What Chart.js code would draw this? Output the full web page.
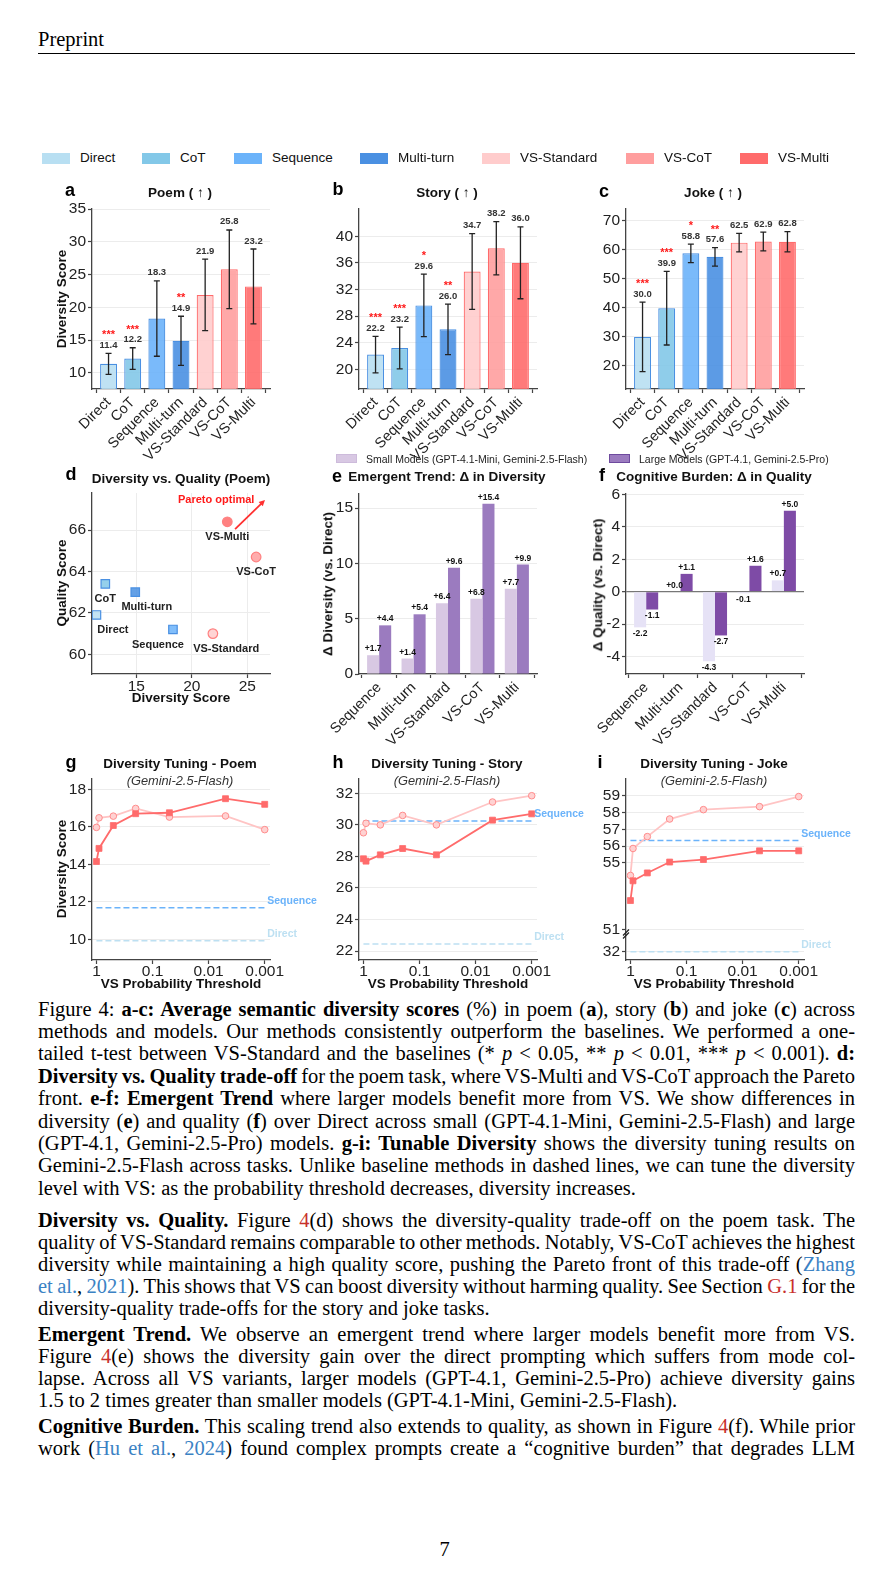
<!DOCTYPE html>
<html>
<head>
<meta charset="utf-8">
<title>Figure 4</title>
<script src="https://cdn.jsdelivr.net/npm/chart.js@4.4.1/dist/chart.umd.min.js"></script>
<style>
  html, body { margin: 0; padding: 0; background: #fff; }
  #page { position: relative; width: 889px; height: 1585px; overflow: hidden; background: #fff; }
  .box { position: absolute; }
  .tx { position: absolute; transform: translate(-50%, -50%); line-height: 1; white-space: nowrap;
        font-family: 'Liberation Sans', Arial, sans-serif; color: #111; }
  .tx.rot { transform: translate(-50%, -50%) rotate(-90deg); }
  .tx.tl { transform: translate(0, -50%); }
  .patch { position: absolute; box-sizing: border-box; }
  .para { position: absolute; left: 38px; width: 817px; font-family: 'Liberation Serif', 'Times New Roman', serif;
          font-size: 20.5px; line-height: 22px; color: #000; }
  .para.cap { line-height: 22.4px; }
  .ln { white-space: nowrap; }
  .r { color: #c8302c; }
  .c { color: #3b82c4; }
</style>
</head>
<body>
<div id="page">
  <div class="para" style="top:28px;line-height:22.5px;">Preprint</div>
  <div style="position:absolute;left:38px;top:52.5px;width:817px;height:1.3px;background:#000;"></div>

  <div class="para cap" style="top:997.5px;">
<div class="ln j">Figure 4: <b>a-c: Average semantic diversity scores</b> (%) in poem (<b>a</b>), story (<b>b</b>) and joke (<b>c</b>) across</div>
<div class="ln j">methods and models. Our methods consistently outperform the baselines. We performed a one-</div>
<div class="ln j">tailed t-test between VS-Standard and the baselines (* <i>p</i> &lt; 0.05, ** <i>p</i> &lt; 0.01, *** <i>p</i> &lt; 0.001). <b>d:</b></div>
<div class="ln j"><b>Diversity vs. Quality trade-off</b> for the poem task, where VS-Multi and VS-CoT approach the Pareto</div>
<div class="ln j">front. <b>e-f: Emergent Trend</b> where larger models benefit more from VS. We show differences in</div>
<div class="ln j">diversity (<b>e</b>) and quality (<b>f</b>) over Direct across small (GPT-4.1-Mini, Gemini-2.5-Flash) and large</div>
<div class="ln j">(GPT-4.1, Gemini-2.5-Pro) models. <b>g-i: Tunable Diversity</b> shows the diversity tuning results on</div>
<div class="ln j">Gemini-2.5-Flash across tasks. Unlike baseline methods in dashed lines, we can tune the diversity</div>
<div class="ln">level with VS: as the probability threshold decreases, diversity increases.</div>
  </div>

  <div class="para" style="top:1208.5px;">
<div class="ln j"><b>Diversity vs. Quality.</b> Figure <span class="r">4</span>(d) shows the diversity-quality trade-off on the poem task. The</div>
<div class="ln j">quality of VS-Standard remains comparable to other methods. Notably, VS-CoT achieves the highest</div>
<div class="ln j">diversity while maintaining a high quality score, pushing the Pareto front of this trade-off (<span class="c">Zhang</span></div>
<div class="ln j"><span class="c">et al.</span>, <span class="c">2021</span>). This shows that VS can boost diversity without harming quality. See Section <span class="r">G.1</span> for the</div>
<div class="ln">diversity-quality trade-offs for the story and joke tasks.</div>
  </div>

  <div class="para" style="top:1322.5px;">
<div class="ln j"><b>Emergent Trend.</b> We observe an emergent trend where larger models benefit more from VS.</div>
<div class="ln j">Figure <span class="r">4</span>(e) shows the diversity gain over the direct prompting which suffers from mode col-</div>
<div class="ln j">lapse. Across all VS variants, larger models (GPT-4.1, Gemini-2.5-Pro) achieve diversity gains</div>
<div class="ln">1.5 to 2 times greater than smaller models (GPT-4.1-Mini, Gemini-2.5-Flash).</div>
  </div>

  <div class="para" style="top:1414.5px;">
<div class="ln j"><b>Cognitive Burden.</b> This scaling trend also extends to quality, as shown in Figure <span class="r">4</span>(f). While prior</div>
<div class="ln j">work (<span class="c">Hu et al.</span>, <span class="c">2024</span>) found complex prompts create a “cognitive burden” that degrades LLM</div>
  </div>

  <div class="para" style="top:1537.5px;left:0;width:889px;text-align:center;">7</div>
</div>

<script>
const page = document.getElementById('page');

// --- data: a-c bars ---
const methods = ['Direct', 'CoT', 'Sequence', 'Multi-turn', 'VS-Standard', 'VS-CoT', 'VS-Multi'];
const poemScores = [11.4, 12.2, 18.3, 14.9, 21.9, 25.8, 23.2];
const poemErr = [1.6, 1.65, 5.75, 3.75, 5.45, 6.0, 5.7];
const poemStars = ['***', '***', '', '**', '', '', ''];
const storyScores = [22.2, 23.2, 29.6, 26.0, 34.7, 38.2, 36.0];
const storyErr = [2.75, 3.15, 4.7, 3.8, 5.7, 4.0, 5.4];
const storyStars = ['***', '***', '*', '**', '', '', ''];
const jokeScores = [30.0, 39.9, 58.8, 57.6, 62.5, 62.9, 62.8];
const jokeErr = [12.0, 12.7, 3.2, 3.2, 3.2, 3.25, 3.5];
const jokeStars = ['***', '***', '*', '**', '', '', ''];

// --- d scatter (x = poemScores) ---
const poemQuality = [61.9, 63.4, 61.2, 63.0, 61.0, 64.7, 66.4];

// --- e-f deltas vs Direct ---
const vsMethods = ['Sequence', 'Multi-turn', 'VS-Standard', 'VS-CoT', 'VS-Multi'];
const smallDiversityGain = [1.7, 1.4, 6.4, 6.8, 7.7];
const largeDiversityGain = [4.4, 5.4, 9.6, 15.4, 9.9];
const smallQualityGain = [-2.2, 0.0, -4.3, -0.1, 0.7];
const largeQualityGain = [-1.1, 1.1, -2.7, 1.6, 5.0];

// --- g-i tuning ---
const thresholds = [1.0, 0.9, 0.5, 0.2, 0.05, 0.005, 0.001];
const poemTuneStandard = [15.97, 16.48, 16.57, 16.98, 16.52, 16.58, 15.85];
const poemTuneMulti = [14.15, 14.85, 16.07, 16.7, 16.75, 17.5, 17.2];
const storyTuneStandard = [29.5, 30.1, 30.0, 30.6, 30.0, 31.45, 31.85];
const storyTuneMulti = [27.85, 27.7, 28.1, 28.5, 28.1, 30.3, 30.7];
const jokeTuneStandard = [54.25, 55.86, 56.57, 57.62, 58.18, 58.36, 58.96];
const jokeTuneMulti = [52.75, 53.93, 54.4, 55.05, 55.2, 55.72, 55.72];
const baselineNames = ['Sequence', 'Direct'];
const poemBaseline = [11.69, 9.93];
const storyBaseline = [30.24, 22.44];
const jokeBaseline = [56.33, 32];

// tick labels
const poemTicks = [10, 15, 20, 25, 30, 35];
const storyTicks = [20, 24, 28, 32, 36, 40];
const jokeTicks = [20, 30, 40, 50, 60, 70];
const qualityTicks = [60, 62, 64, 66];
const diversityXTicks = [15, 20, 25];
const gainTicks = [0, 5, 10, 15];
const qualityGainTicks = [-4, -2, 0, 2, 4, 6];
const thresholdTicks = [1, 0.1, 0.01, 0.001];
const poemTuneTicks = [10, 12, 14, 16, 18];
const storyTuneTicks = [22, 24, 26, 28, 30, 32];
const jokeTuneTicks = [32, 51, 55, 56, 57, 58, 59];

// colours
const methodColors = ['#B8DFF2', '#83C8E8', '#6BB3FA', '#4A90E2', '#FFCCCC', '#FF9E9E', '#FF6B6B'];
const edgeColors = ['#4A90E2', '#4A90E2', '#4A90E2', '#4A90E2', '#FF6B6B', '#FF6B6B', '#FF6B6B'];
const baselineColors = ['#6BB3FA', '#BDE0F2'];

// joke axis is broken between 32 and 51
const breakAt = 51, breakGap = 1.3;
function jokeAxis(v) {
  return v >= breakAt ? v : breakAt - breakGap * (breakAt - v) / (breakAt - jokeBaseline[1]);
}

Chart.defaults.font.family = "'Liberation Sans', Arial, sans-serif";
Chart.defaults.color = '#222';

// plot areas on the page: left, top, width, height
const boxA = [92, 209, 178, 180], boxB = [359, 209, 178, 180], boxC = [625.5, 209, 178, 180];
const boxD = [92, 493, 178, 181], boxE = [359, 494, 178, 180], boxF = [625.5, 494, 178, 180];
const boxG = [92, 779, 178, 181], boxH = [359, 779, 178, 181], boxI = [625.5, 779, 178, 181];
const M = { l: 70, t: 40, r: 90, b: 70 };
const TICK_FONT = 15.5, CAT_FONT = 14.5;

function mount(box) {
  const d = document.createElement('div');
  d.className = 'box';
  d.style.left = (box[0] - M.l) + 'px';
  d.style.top = (box[1] - M.t) + 'px';
  d.style.width = (box[2] + M.l + M.r) + 'px';
  d.style.height = (box[3] + M.t + M.b) + 'px';
  const c = document.createElement('canvas');
  d.appendChild(c);
  page.appendChild(d);
  return c;
}

function addText(txt, x, y, css, cls) {
  const d = document.createElement('div');
  d.className = 'tx' + (cls ? ' ' + cls : '');
  d.textContent = txt;
  d.style.left = x + 'px';
  d.style.top = y + 'px';
  Object.assign(d.style, css || {});
  page.appendChild(d);
}

function yAxis(min, max, ticks, extra) {
  return Object.assign({
    min, max,
    afterBuildTicks: s => { s.ticks = ticks.map(v => ({ value: v })); },
    afterFit: s => { s.width = M.l; s.paddingTop = 0; s.paddingBottom = 0; },
    ticks: { font: { size: TICK_FONT }, color: '#222', padding: 2 },
    grid: { color: '#ececec', lineWidth: 1, tickColor: '#444', tickLength: 4, tickWidth: 1.2 },
    border: { color: '#444', width: 1.3 }
  }, extra || {});
}

function xAxis(extra) {
  return Object.assign({
    afterFit: s => { s.height = M.b; s.paddingLeft = 0; s.paddingRight = 0; },
    grid: { drawOnChartArea: false, tickColor: '#444', tickLength: 4, tickWidth: 1.2 },
    border: { color: '#444', width: 1.3 }
  }, extra);
}

function baseOptions(x, y, pluginOpts) {
  return {
    responsive: true, maintainAspectRatio: false, animation: false,
    layout: { padding: { left: 0, top: M.t, right: M.r, bottom: 0 } },
    plugins: Object.assign({ legend: { display: false }, tooltip: { enabled: false } }, pluginOpts || {}),
    scales: { x, y }
  };
}

// error bars, values and significance stars for a-c
const errBars = {
  id: 'errbars',
  afterDatasetsDraw(chart, args, opts) {
    const { ctx } = chart;
    const y = chart.scales.y;
    const ds = chart.data.datasets[0];
    ctx.save();
    chart.getDatasetMeta(0).data.forEach((bar, i) => {
      const v = ds.data[i].y, e = opts.err[i];
      const top = y.getPixelForValue(v + e), bot = y.getPixelForValue(v - e);
      ctx.strokeStyle = '#222';
      ctx.lineWidth = 1.3;
      ctx.beginPath();
      ctx.moveTo(bar.x, top); ctx.lineTo(bar.x, bot);
      ctx.moveTo(bar.x - 3, top); ctx.lineTo(bar.x + 3, top);
      ctx.moveTo(bar.x - 3, bot); ctx.lineTo(bar.x + 3, bot);
      ctx.stroke();
      const yl = top - 5.5;
      ctx.textAlign = 'center';
      ctx.textBaseline = 'alphabetic';
      ctx.fillStyle = '#333';
      ctx.font = "bold 9.5px 'Liberation Sans', Arial";
      ctx.fillText(v.toFixed(1), bar.x, yl);
      if (opts.stars[i]) {
        ctx.fillStyle = '#ff1a1a';
        ctx.font = "bold 11px 'Liberation Sans', Arial";
        ctx.fillText(opts.stars[i], bar.x, yl - 9.5);
      }
    });
    ctx.restore();
  }
};

function methodBars(box, vals, err, stars, yMin, yMax, ticks) {
  return new Chart(mount(box), {
    type: 'bar',
    data: {
      datasets: [{
        data: vals.map((v, i) => ({ x: i, y: v })),
        backgroundColor: methodColors.map(c => c + 'E6'),
        borderColor: edgeColors,
        borderWidth: 1.2,
        borderSkipped: false,
        categoryPercentage: 1,
        barPercentage: 0.7
      }]
    },
    options: baseOptions(
      xAxis({
        type: 'linear', min: -0.685, max: 6.685, offset: false,
        afterBuildTicks: s => { s.ticks = methods.map((m, i) => ({ value: i })); },
        ticks: { callback: v => methods[v], minRotation: 45, maxRotation: 45, autoSkip: false,
                 font: { size: CAT_FONT }, color: '#222', padding: 1 }
      }),
      yAxis(yMin, yMax, ticks),
      { errbars: { err, stars } }
    ),
    plugins: [errBars]
  });
}

methodBars(boxA, poemScores, poemErr, poemStars, 7.56, 35, poemTicks);
methodBars(boxB, storyScores, storyErr, storyStars, 17.03, 44.1, storyTicks);
methodBars(boxC, jokeScores, jokeErr, jokeStars, 12.03, 74.1, jokeTicks);

// d: scatter with labels and pareto arrow
const labelDx = [16.5, 0, -15, 11.5, 13.3, 0, 0];
const paretoArrow = [[23.9, 66.05], [26.6, 67.45]];
const paretoText = [22.2, 67.45];
const scatterNotes = {
  id: 'scatternotes',
  afterDatasetsDraw(chart) {
    const { ctx } = chart;
    const { x, y } = chart.scales;
    ctx.save();
    ctx.font = "bold 11px 'Liberation Sans', Arial";
    ctx.fillStyle = '#222';
    ctx.textAlign = 'center';
    ctx.textBaseline = 'middle';
    methods.forEach((m, i) => {
      ctx.fillText(m, x.getPixelForValue(poemScores[i]) + labelDx[i], y.getPixelForValue(poemQuality[i]) + 15);
    });
    const x0 = x.getPixelForValue(paretoArrow[0][0]), y0 = y.getPixelForValue(paretoArrow[0][1]);
    const x1 = x.getPixelForValue(paretoArrow[1][0]), y1 = y.getPixelForValue(paretoArrow[1][1]);
    const ang = Math.atan2(y1 - y0, x1 - x0);
    ctx.strokeStyle = '#ff3030';
    ctx.fillStyle = '#ff3030';
    ctx.lineWidth = 1.8;
    ctx.beginPath(); ctx.moveTo(x0, y0); ctx.lineTo(x1 - 4 * Math.cos(ang), y1 - 4 * Math.sin(ang)); ctx.stroke();
    ctx.beginPath();
    ctx.moveTo(x1, y1);
    ctx.lineTo(x1 - 6 * Math.cos(ang) + 3 * Math.sin(ang), y1 - 6 * Math.sin(ang) - 3 * Math.cos(ang));
    ctx.lineTo(x1 - 6 * Math.cos(ang) - 3 * Math.sin(ang), y1 - 6 * Math.sin(ang) + 3 * Math.cos(ang));
    ctx.closePath(); ctx.fill();
    ctx.fillStyle = '#ff1a1a';
    ctx.fillText('Pareto optimal', x.getPixelForValue(paretoText[0]), y.getPixelForValue(paretoText[1]));
    ctx.restore();
  }
};

new Chart(mount(boxD), {
  type: 'scatter',
  data: {
    datasets: [{
      data: poemScores.map((v, i) => ({ x: v, y: poemQuality[i] })),
      pointStyle: methods.map((m, i) => i < 4 ? 'rect' : 'circle'),
      pointRadius: methods.map((m, i) => i < 4 ? 6 : 4.8),
      pointBackgroundColor: methodColors.map(c => c + 'D9'),
      pointBorderColor: edgeColors.map((c, i) => i < 4 ? c : '#FF8080'),
      pointBorderWidth: 1.2
    }]
  },
  options: baseOptions(
    xAxis({
      type: 'linear', min: 11.0, max: 27.05,
      afterBuildTicks: s => { s.ticks = diversityXTicks.map(v => ({ value: v })); },
      ticks: { font: { size: TICK_FONT }, color: '#222', padding: -1 },
      grid: { color: '#ececec', tickColor: '#444', tickLength: 4, tickWidth: 1.2 }
    }),
    yAxis(59.05, 67.79, qualityTicks)
  ),
  plugins: [scatterNotes]
});

// e-f grouped bars
const gainLabels = {
  id: 'gainlabels',
  afterDatasetsDraw(chart) {
    const { ctx } = chart;
    ctx.save();
    ctx.font = "bold 8.5px 'Liberation Sans', Arial";
    ctx.fillStyle = '#111';
    ctx.textAlign = 'center';
    chart.data.datasets.forEach((ds, di) => {
      chart.getDatasetMeta(di).data.forEach((bar, i) => {
        const v = ds.data[i].y;
        const txt = (v >= 0 ? '+' : '') + v.toFixed(1);
        if (v >= 0) { ctx.textBaseline = 'bottom'; ctx.fillText(txt, bar.x, bar.y - 2); }
        else { ctx.textBaseline = 'top'; ctx.fillText(txt, bar.x, bar.y + 2); }
      });
    });
    ctx.restore();
  }
};

function gainBars(box, small, large, colors, yMin, yMax, ticks, zeroLine) {
  const y = yAxis(yMin, yMax, ticks);
  if (zeroLine) {
    y.grid.color = c => (c.tick && c.tick.value === 0) ? '#777' : '#ececec';
    y.grid.lineWidth = c => (c.tick && c.tick.value === 0) ? 1.3 : 1;
  }
  return new Chart(mount(box), {
    type: 'bar',
    data: {
      datasets: [
        { data: small.map((v, i) => ({ x: i, y: v })), backgroundColor: colors[0], borderWidth: 0,
          categoryPercentage: 0.7, barPercentage: 1 },
        { data: large.map((v, i) => ({ x: i, y: v })), backgroundColor: colors[1], borderWidth: 0,
          categoryPercentage: 0.7, barPercentage: 1 }
      ]
    },
    options: baseOptions(
      xAxis({
        type: 'linear', min: -0.585, max: 4.585, offset: false,
        afterBuildTicks: s => { s.ticks = vsMethods.map((m, i) => ({ value: i })); },
        ticks: { callback: v => vsMethods[v], minRotation: 45, maxRotation: 45, autoSkip: false,
                 font: { size: CAT_FONT }, color: '#222', padding: 1 }
      }),
      y
    ),
    plugins: [gainLabels]
  });
}

gainBars(boxE, smallDiversityGain, largeDiversityGain, ['#D8C8E3', '#9B7BBF'], 0, 16.28, gainTicks, false);
gainBars(boxF, smallQualityGain, largeQualityGain, ['#E6E2F6', '#7E4BA6'], -5.08, 6.03, qualityGainTicks, true);

// g-i tuning lines
const baselineTags = {
  id: 'basetags',
  afterDatasetsDraw(chart, args, opts) {
    const { ctx } = chart;
    const { x, y } = chart.scales;
    ctx.save();
    ctx.font = "bold 10.5px 'Liberation Sans', Arial";
    ctx.textAlign = 'left';
    ctx.textBaseline = 'middle';
    opts.values.forEach((v, i) => {
      ctx.fillStyle = baselineColors[i];
      ctx.fillText(baselineNames[i], x.getPixelForValue(thresholds[thresholds.length - 1]) + 2.5, y.getPixelForValue(v) - 6.5);
    });
    if (opts.breakMark) {
      const xb = chart.chartArea.left, yb = y.getPixelForValue(50.75);
      ctx.strokeStyle = '#222';
      ctx.lineWidth = 1.3;
      [-1.5, 1.5].forEach(o => {
        ctx.beginPath(); ctx.moveTo(xb - 3, yb + 3 + o); ctx.lineTo(xb + 3, yb - 3 + o); ctx.stroke();
      });
    }
    ctx.restore();
  }
};

function tuneChart(box, standard, multi, base, yMin, yMax, ticks, map) {
  const f = map || (v => v);
  const y = yAxis(yMin, yMax, ticks.map(f));
  y.ticks.callback = (v, i) => ticks[i];
  const line = (vals) => thresholds.map((t, i) => ({ x: t, y: f(vals[i]) }));
  const flat = (v) => [{ x: thresholds[0], y: f(v) }, { x: thresholds[thresholds.length - 1], y: f(v) }];
  return new Chart(mount(box), {
    type: 'line',
    data: {
      datasets: [
        { data: line(multi), borderColor: '#FF6B6B', borderWidth: 1.8, pointStyle: 'rect', pointRadius: 4.2,
          pointBackgroundColor: '#FF6B6B', pointBorderColor: '#FF6B6B', pointBorderWidth: 0.8 },
        { data: line(standard), borderColor: '#FFC4C4', borderWidth: 1.8, pointStyle: 'circle', pointRadius: 3.3,
          pointBackgroundColor: '#FFD2D2', pointBorderColor: '#FF8C8C', pointBorderWidth: 1 },
        { data: flat(base[0]), borderColor: baselineColors[0], borderWidth: 1.5, borderDash: [6, 3], pointRadius: 0 },
        { data: flat(base[1]), borderColor: baselineColors[1], borderWidth: 1.5, borderDash: [6, 3], pointRadius: 0 }
      ]
    },
    options: baseOptions(
      xAxis({
        type: 'logarithmic', reverse: true, min: 0.000805, max: 1.2,
        afterBuildTicks: s => { s.ticks = thresholdTicks.map(v => ({ value: v })); },
        ticks: { callback: v => String(v), autoSkip: false, maxRotation: 0, font: { size: TICK_FONT }, color: '#222', padding: -2 }
      }),
      y,
      { basetags: { values: base.map(f), breakMark: !!map } }
    ),
    plugins: [baselineTags]
  });
}

tuneChart(boxG, poemTuneStandard, poemTuneMulti, poemBaseline, 8.9, 18.55, poemTuneTicks);
tuneChart(boxH, storyTuneStandard, storyTuneMulti, storyBaseline, 21.43, 32.91, storyTuneTicks);
tuneChart(boxI, jokeTuneStandard, jokeTuneMulti, jokeBaseline, 49.2, 60.01, jokeTuneTicks, jokeAxis);

// --- figure text ---
const legendX = [42, 142, 234, 360, 482, 626, 740];
methods.forEach((m, i) => {
  const p = document.createElement('div');
  p.className = 'patch';
  Object.assign(p.style, { left: legendX[i] + 'px', top: '152.5px', width: '28px', height: '11px', background: methodColors[i] });
  page.appendChild(p);
  addText(m, legendX[i] + 38, 158, { fontSize: '13.5px' }, 'tl');
});

const modelLegend = [['Small Models (GPT-4.1-Mini, Gemini-2.5-Flash)', 336, '#D8C8E3', '#CDBBDB'],
                     ['Large Models (GPT-4.1, Gemini-2.5-Pro)', 609, '#9B7BBF', '#6E4A9E']];
modelLegend.forEach(([txt, x, fill, edge]) => {
  const p = document.createElement('div');
  p.className = 'patch';
  Object.assign(p.style, { left: x + 'px', top: '454px', width: '21px', height: '8.5px', background: fill, border: '1px solid ' + edge });
  page.appendChild(p);
  addText(txt, x + 30, 458.5, { fontSize: '10.5px', color: '#222' }, 'tl');
});

const letter = { fontWeight: 'bold', fontSize: '18px', color: '#000' };
[['a', 70, 190], ['b', 338, 189], ['c', 604, 191], ['d', 71, 474], ['e', 337, 476],
 ['f', 602, 475], ['g', 71, 762], ['h', 338, 762], ['i', 600, 762]].forEach(([t, x, y]) => addText(t, x, y, letter));

const title = { fontWeight: 'bold', fontSize: '13.5px', color: '#111' };
addText('Poem ( ↑ )', 180, 193, title);
addText('Story ( ↑ )', 447, 193, title);
addText('Joke ( ↑ )', 713, 193, title);
addText('Diversity vs. Quality (Poem)', 181, 479, title);
addText('Emergent Trend: Δ in Diversity', 447, 477, title);
addText('Cognitive Burden: Δ in Quality', 714, 477, title);
addText('Diversity Tuning - Poem', 180, 764, title);
addText('Diversity Tuning - Story', 447, 764, title);
addText('Diversity Tuning - Joke', 714, 764, title);
const sub = { fontStyle: 'italic', fontSize: '12.8px', color: '#333' };
addText('(Gemini-2.5-Flash)', 180, 781, sub);
addText('(Gemini-2.5-Flash)', 447, 781, sub);
addText('(Gemini-2.5-Flash)', 714, 781, sub);

const axisTitle = { fontWeight: 'bold', fontSize: '13.5px', color: '#111' };
addText('Diversity Score', 62, 299, axisTitle, 'rot');
addText('Quality Score', 62, 583, axisTitle, 'rot');
addText('Δ Diversity (vs. Direct)', 328, 584, axisTitle, 'rot');
addText('Δ Quality (vs. Direct)', 598, 585, axisTitle, 'rot');
addText('Diversity Score', 62, 869, axisTitle, 'rot');
addText('Diversity Score', 181, 698, axisTitle);
addText('VS Probability Threshold', 181, 984, axisTitle);
addText('VS Probability Threshold', 448, 984, axisTitle);
addText('VS Probability Threshold', 714, 984, axisTitle);

// justify body lines to the text width
const TEXT_W = 817;
document.querySelectorAll('.ln.j').forEach(el => {
  const r = document.createRange();
  r.selectNodeContents(el);
  const w = r.getBoundingClientRect().width;
  const n = (el.textContent.match(/ /g) || []).length;
  if (n) el.style.wordSpacing = ((TEXT_W - w) / n) + 'px';
});
</script>
</body>
</html>
